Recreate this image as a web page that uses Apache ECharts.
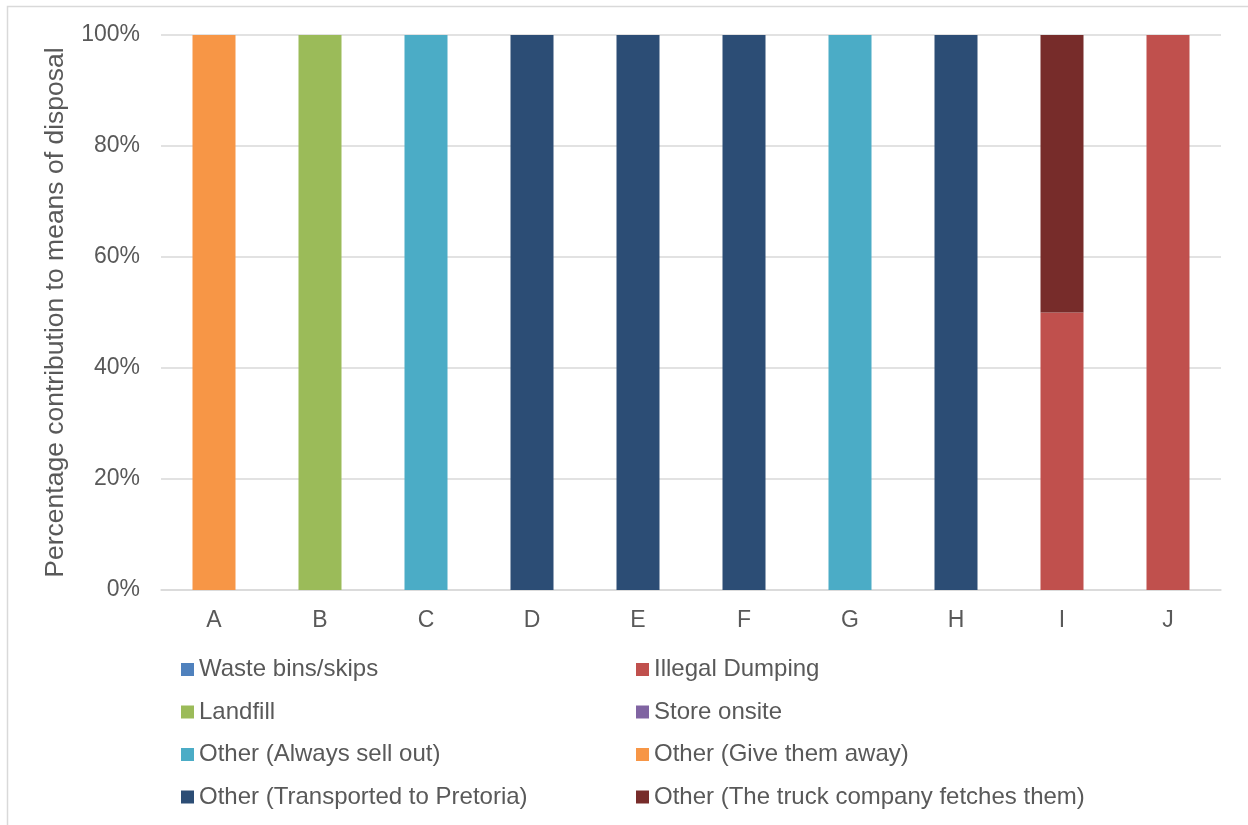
<!DOCTYPE html>
<html>
<head>
<meta charset="utf-8">
<title>Means of disposal</title>
<script src="https://cdn.jsdelivr.net/npm/echarts@6/dist/echarts.min.js"></script>
<style>
  html, body { margin: 0; padding: 0; background: #fff; }
  #chart { width: 1248px; height: 825px; }
</style>
</head>
<body>
<div id="chart"></div>
<script>
// Respondents A–J
const categories = ['A', 'B', 'C', 'D', 'E', 'F', 'G', 'H', 'I', 'J'];

// Share (%) of each means of disposal per respondent
const wasteBins      = [0, 0, 0, 0, 0, 0, 0, 0, 0, 0];
const illegalDumping = [0, 0, 0, 0, 0, 0, 0, 0, 50, 100];
const landfill       = [0, 100, 0, 0, 0, 0, 0, 0, 0, 0];
const storeOnsite    = [0, 0, 0, 0, 0, 0, 0, 0, 0, 0];
const alwaysSellOut  = [0, 0, 100, 0, 0, 0, 100, 0, 0, 0];
const giveAway       = [100, 0, 0, 0, 0, 0, 0, 0, 0, 0];
const toPretoria     = [0, 0, 0, 100, 100, 100, 0, 100, 0, 0];
const truckFetches   = [0, 0, 0, 0, 0, 0, 0, 0, 50, 0];

const seriesNames = [
  'Waste bins/skips',
  'Illegal Dumping',
  'Landfill',
  'Store onsite',
  'Other (Always sell out)',
  'Other (Give them away)',
  'Other (Transported to Pretoria)',
  'Other (The truck company fetches them)'
];
const seriesData = [wasteBins, illegalDumping, landfill, storeOnsite,
                    alwaysSellOut, giveAway, toPretoria, truckFetches];
const seriesColors = ['#4F81BD', '#C0504D', '#9BBB59', '#8064A2',
                      '#4BACC6', '#F79646', '#2C4D75', '#772C2A'];

const yTicks = [0, 20, 40, 60, 80, 100];

const textColor = '#595959';
const fontFamily = '"Liberation Sans", Arial, sans-serif';

// Legend laid out in two columns, four rows (row-wise order)
const legends = seriesNames.map((name, i) => ({
  data: [name],
  left: i % 2 === 0 ? 181 : 636,
  top: 657.5 + Math.floor(i / 2) * 42.5,
  padding: 0,
  itemWidth: 13,
  itemHeight: 13,
  itemGap: 5,
  icon: 'rect',
  selectedMode: false,
  textStyle: { color: textColor, fontSize: 24, fontFamily, lineHeight: 24 }
}));

const chart = echarts.init(document.getElementById('chart'), null, { renderer: 'canvas' });
chart.setOption({
  animation: false,
  backgroundColor: '#ffffff',
  graphic: [{
    type: 'rect',
    shape: { x: 7.5, y: 6.5, width: 1400, height: 1000 },
    style: { fill: 'none', stroke: '#D9D9D9', lineWidth: 1.5 },
    silent: true
  }],
  grid: { left: 161, right: 27, top: 35, bottom: 235, containLabel: false },
  legend: legends,
  xAxis: {
    type: 'category',
    data: categories,
    axisLine: { lineStyle: { color: '#D9D9D9', width: 1.5 } },
    axisTick: { show: false },
    axisLabel: { color: textColor, fontSize: 23, fontFamily, margin: 19 }
  },
  yAxis: {
    type: 'value',
    min: yTicks[0],
    max: yTicks[yTicks.length - 1],
    interval: yTicks[1] - yTicks[0],
    name: 'Percentage contribution to means of disposal',
    nameLocation: 'middle',
    nameGap: 92,
    nameTextStyle: { color: textColor, fontSize: 26.5, fontFamily },
    axisLine: { show: false },
    axisTick: { show: false },
    axisLabel: { color: textColor, fontSize: 23, fontFamily, margin: 21, formatter: '{value}%' },
    splitLine: { lineStyle: { color: '#D9D9D9', width: 1.5 } }
  },
  series: seriesNames.map((name, i) => ({
    name,
    type: 'bar',
    stack: 'total',
    barWidth: 43,
    data: seriesData[i],
    itemStyle: { color: seriesColors[i] }
  }))
});
</script>
</body>
</html>
